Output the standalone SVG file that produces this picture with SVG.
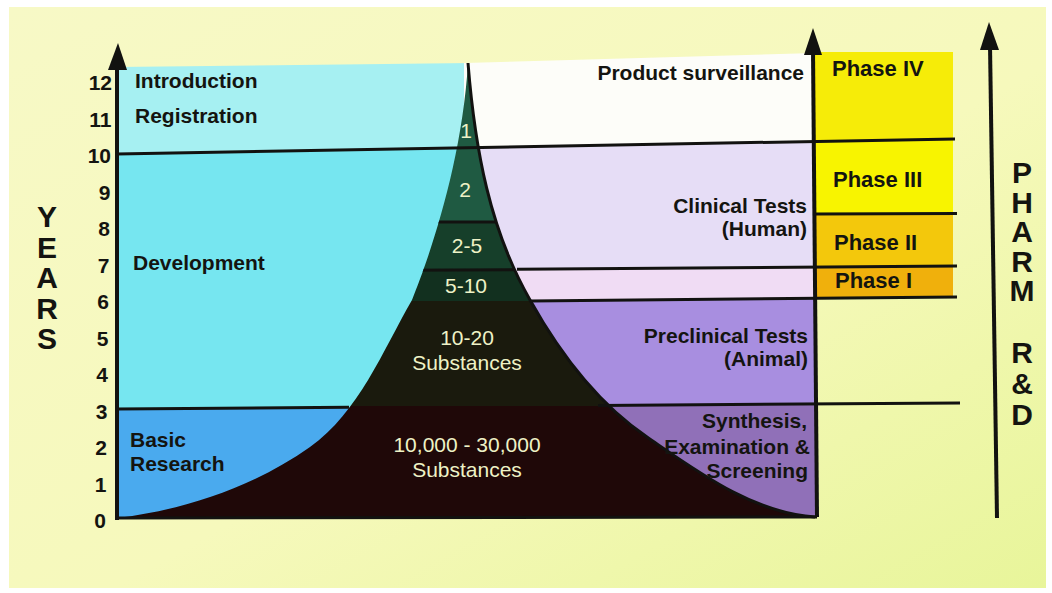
<svg xmlns="http://www.w3.org/2000/svg" width="1052" height="593" viewBox="0 0 1052 593">
  <defs>
    <style>
      .lbl { font-family: "Liberation Sans", Arial, sans-serif; font-weight: bold; font-size: 21px; fill: #141410; }
      .end { text-anchor: end; }
      .num { font-family: "Liberation Sans", Arial, sans-serif; font-weight: bold; font-size: 21px; fill: #141410; text-anchor: end; }
      .big { font-family: "Liberation Sans", Arial, sans-serif; font-weight: bold; font-size: 30px; fill: #141410; writing-mode: vertical-rl; text-orientation: upright; }
      .fn { font-family: "Liberation Sans", Arial, sans-serif; font-size: 21px; fill: #eef2c6; text-anchor: middle; }
      .ph { font-family: "Liberation Sans", Arial, sans-serif; font-weight: bold; font-size: 22px; fill: #141410; }
      .rule { stroke: #121210; stroke-width: 3; fill: none; }
      .axis { stroke: #121210; stroke-width: 4; fill: none; }
    </style>
    <linearGradient id="bg" x1="0" y1="0" x2="1" y2="1">
      <stop offset="0" stop-color="#f7f9c6"/>
      <stop offset="0.55" stop-color="#f6f9bc"/>
      <stop offset="1" stop-color="#e8f59a"/>
    </linearGradient>
    <clipPath id="funnelClip">
      <path d="M468,63 C475,150 490,230 530,300 C559,352 597,403 647,437 C698,472 753,513 815,517 L117,518 C185,510 255,486 310,447 C359,412 382,352 412,300 C432,250 462,160 468,63 Z"/>
    </clipPath>
  </defs>

  <!-- screen -->
  <rect x="0" y="0" width="1052" height="593" fill="#ffffff"/>
  <rect x="9" y="7" width="1037" height="581" fill="url(#bg)"/>

  <!-- left stages: introduction / development / basic research -->
  <g id="left-bands">
    <polygon points="117,67 472,63 472,147.6 117,154" fill="#a6f0f2"/>
    <polygon points="117,154 472,147.6 472,406.5 117,409" fill="#76e6f0"/>
    <polygon points="117,409 472,406.5 472,518 117,518" fill="#4aaaee"/>
  </g>

  <!-- right stages: surveillance / clinical / preclinical / screening -->
  <g id="right-bands">
    <polygon points="464,63 815,53 815,141.4 464,147.7" fill="#fdfdf9"/>
    <polygon points="464,147.7 815,141.4 815,267.1 464,269.7" fill="#e6ddf6"/>
    <polygon points="464,269.7 815,267.1 815,298.3 464,301.5" fill="#f0dcf4"/>
    <polygon points="464,301.5 815,298.3 815,404 464,406.5" fill="#a88ee0"/>
    <polygon points="464,406.5 815,404 815,518 464,518" fill="#9070b8"/>
  </g>

  <!-- funnel of remaining substances -->
  <g id="funnel" clip-path="url(#funnelClip)">
    <rect x="100" y="40" width="730" height="182" fill="#1f5a42"/>
    <rect x="100" y="222" width="730" height="47" fill="#163f2a"/>
    <rect x="100" y="269" width="730" height="32" fill="#12301f"/>
    <rect x="100" y="301" width="730" height="105" fill="#1a1a0d"/>
    <rect x="100" y="406" width="730" height="120" fill="#1f0808"/>
    <line x1="400" y1="222" x2="540" y2="222" class="rule"/>
    <line x1="400" y1="270.2" x2="540" y2="269.5" class="rule"/>
  </g>

  <!-- phase blocks -->
  <g id="phases">
    <polygon points="815,52 953,52 953,138.9 815,141.4" fill="#f6ec08"/>
    <polygon points="815,141.4 953,138.9 953,213.5 815,214" fill="#f8f400"/>
    <polygon points="815,214 953,213.5 953,266 815,267.1" fill="#f3c80c"/>
    <polygon points="815,267.1 953,266 953,297 815,298.3" fill="#f0b00c"/>
  </g>

  <!-- rules and axes -->
  <g id="rules">
    <path class="rule" d="M468,63 C475,150 490,230 530,300 C559,352 597,403 647,437 C698,472 753,513 815,517" stroke-width="4"/>
    <line class="rule" x1="117" y1="154" x2="955" y2="138.9"/>
    <line class="rule" x1="117" y1="409" x2="349" y2="407.3"/>
    <line class="rule" x1="598" y1="405.5" x2="960" y2="403"/>
    <line class="rule" x1="517" y1="269.3" x2="957" y2="266"/>
    <line class="rule" x1="530" y1="301" x2="957" y2="297"/>
    <line class="rule" x1="815" y1="214" x2="957" y2="213.5"/>
    <line class="rule" x1="117" y1="518" x2="817" y2="517"/>
    <line class="axis" x1="117" y1="520" x2="117" y2="62"/>
    <polygon points="118,43 108,70 127,70" fill="#121210"/>
    <line class="axis" x1="817" y1="517" x2="813" y2="50"/>
    <polygon points="813,28 804,55 822,55" fill="#121210"/>
    <line class="axis" x1="997" y1="518" x2="990" y2="45"/>
    <polygon points="989,22 980,50 999,50" fill="#121210"/>
  </g>

  <!-- year scale -->
  <g id="year-scale">
    <text class="num" x="112" y="90">12</text>
    <text class="num" x="111.5" y="126.5">11</text>
    <text class="num" x="111" y="163">10</text>
    <text class="num" x="110.5" y="199.5">9</text>
    <text class="num" x="110" y="236">8</text>
    <text class="num" x="109.5" y="272.5">7</text>
    <text class="num" x="109" y="309">6</text>
    <text class="num" x="108.5" y="345.5">5</text>
    <text class="num" x="108" y="382">4</text>
    <text class="num" x="107.5" y="418.5">3</text>
    <text class="num" x="107" y="455">2</text>
    <text class="num" x="106.5" y="491.5">1</text>
    <text class="num" x="106" y="528">0</text>
  </g>

  <!-- vertical titles, one upright glyph per step -->
  <g id="years-title">
    <text class="big" x="47" y="200" letter-spacing="-2.5">YEARS</text>
  </g>

  <g id="pharm-title">
    <text class="big" x="1022" y="156" letter-spacing="-3.5">PHARM</text>
    <text class="big" x="1022" y="336" letter-spacing="-2">R&amp;D</text>
  </g>

  <!-- stage labels, left -->
  <g id="stage-left">
    <text class="lbl" x="135" y="88">Introduction</text>
    <text class="lbl" x="135" y="123">Registration</text>
    <text class="lbl" x="133" y="270">Development</text>
    <text class="lbl" x="130" y="447">Basic</text>
    <text class="lbl" x="130" y="471">Research</text>
  </g>

  <!-- stage labels, right -->
  <g id="stage-right">
    <text class="lbl end" x="804" y="80">Product surveillance</text>
    <text class="lbl end" x="807" y="213">Clinical Tests</text>
    <text class="lbl end" x="807" y="236">(Human)</text>
    <text class="lbl end" x="808" y="343">Preclinical Tests</text>
    <text class="lbl end" x="808" y="366">(Animal)</text>
    <text class="lbl end" x="807" y="428">Synthesis,</text>
    <text class="lbl end" x="810" y="454">Examination &amp;</text>
    <text class="lbl end" x="808" y="478">Screening</text>
  </g>

  <!-- substance counts -->
  <g id="counts">
    <text class="fn" x="466" y="138">1</text>
    <text class="fn" x="465" y="197">2</text>
    <text class="fn" x="467" y="253">2-5</text>
    <text class="fn" x="466" y="293">5-10</text>
    <text class="fn" x="467" y="345">10-20</text>
    <text class="fn" x="467" y="370">Substances</text>
    <text class="fn" x="467" y="452">10,000 - 30,000</text>
    <text class="fn" x="467" y="477">Substances</text>
  </g>

  <!-- phase labels -->
  <g id="phase-labels">
    <text class="ph" x="832" y="76">Phase IV</text>
    <text class="ph" x="833" y="187">Phase III</text>
    <text class="ph" x="834" y="250">Phase II</text>
    <text class="ph" x="835" y="288">Phase I</text>
  </g>
</svg>
